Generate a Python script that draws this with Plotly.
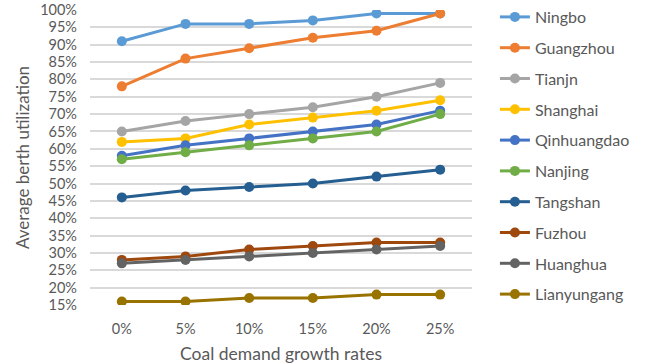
import plotly.graph_objects as go

categories = ["0%", "5%", "10%", "15%", "20%", "25%"]
ports = ["Ningbo", "Guangzhou", "Tianjn", "Shanghai", "Qinhuangdao",
         "Nanjing", "Tangshan", "Fuzhou", "Huanghua", "Lianyungang"]
ningbo = [0.91, 0.96, 0.96, 0.97, 0.99, 0.99]
guangzhou = [0.78, 0.86, 0.89, 0.92, 0.94, 0.99]
tianjn = [0.65, 0.68, 0.70, 0.72, 0.75, 0.79]
shanghai = [0.62, 0.63, 0.67, 0.69, 0.71, 0.74]
qinhuangdao = [0.58, 0.61, 0.63, 0.65, 0.67, 0.71]
nanjing = [0.57, 0.59, 0.61, 0.63, 0.65, 0.70]
tangshan = [0.46, 0.48, 0.49, 0.50, 0.52, 0.54]
fuzhou = [0.28, 0.29, 0.31, 0.32, 0.33, 0.33]
huanghua = [0.27, 0.28, 0.29, 0.30, 0.31, 0.32]
lianyungang = [0.16, 0.16, 0.17, 0.17, 0.18, 0.18]
series = [ningbo, guangzhou, tianjn, shanghai, qinhuangdao,
          nanjing, tangshan, fuzhou, huanghua, lianyungang]
colors = ["#5B9BD5", "#ED7D31", "#A5A5A5", "#FFC000", "#4472C4",
          "#70AD47", "#255E91", "#9E480E", "#636363", "#997300"]
y_ticks = [i / 100 for i in range(15, 101, 5)]

fig = go.Figure()
for name, vals, col in zip(ports, series, colors):
    fig.add_trace(go.Scatter(
        x=categories, y=vals, name=name, mode="lines+markers",
        legendgroup=name,
        line=dict(color=col, width=3),
        marker=dict(color=col, size=10),
    ))

font_family = "Lato, 'Open Sans', sans-serif"
fig.update_layout(
    width=645, height=364,
    margin=dict(l=90, r=173, t=10, b=59, autoexpand=False),
    paper_bgcolor="white", plot_bgcolor="white",
    font=dict(family=font_family, color="#595959"),
    showlegend=True,
    legend=dict(x=1.06, y=1.0, yref="container", xanchor="left", yanchor="top",
                font=dict(size=16, color="#595959"),
                tracegroupgap=7, itemwidth=30, maxheight=364),
    xaxis=dict(type="category", range=[-0.5, 5.5], showgrid=False,
               zeroline=False, showline=False, ticks="", automargin=False,
               ticklabelstandoff=13,
               tickfont=dict(size=14.5, color="#595959"),
               title=dict(text="Coal demand growth rates",
                          font=dict(size=17.5, color="#595959"), standoff=14)),
    yaxis=dict(range=[0.15, 1.0], tickvals=y_ticks, tickformat=".0%",
               showgrid=True, gridcolor="#D9D9D9", gridwidth=1.5,
               zeroline=False, showline=False, ticklabelstandoff=12,
               automargin=False,
               tickfont=dict(size=14.5, color="#595959"),
               title=dict(text="Average berth utilization",
                          font=dict(size=17, color="#595959"), standoff=6)),
)
fig.write_html("out.html")
